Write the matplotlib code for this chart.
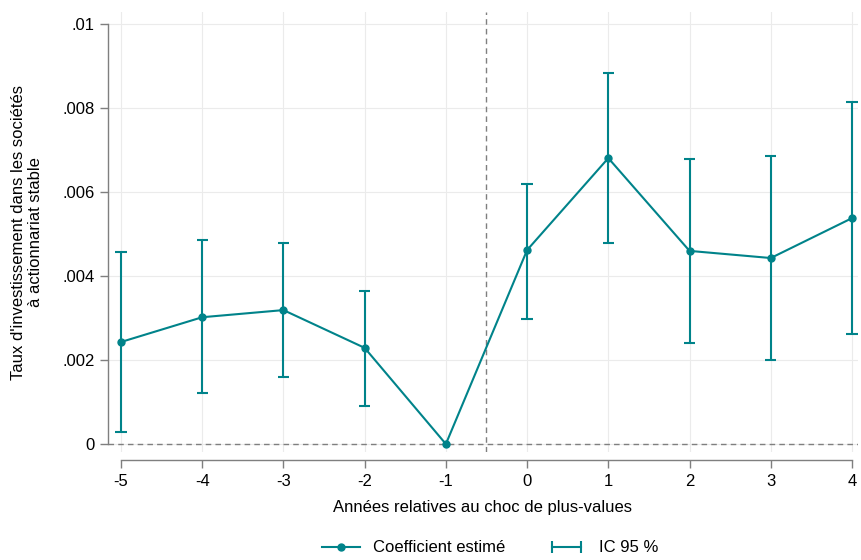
import matplotlib.pyplot as plt
from matplotlib.lines import Line2D
from matplotlib.legend_handler import HandlerLine2D

plt.rcParams['font.family'] = ['Liberation Sans', 'DejaVu Sans']
plt.rcParams['axes.unicode_minus'] = False

# Données
annees = [-5, -4, -3, -2, -1, 0, 1, 2, 3, 4]
coef = [0.00243, 0.00302, 0.00319, 0.00229, 0.0, 0.00462, 0.00681, 0.00460, 0.00443, 0.00538]
ic_haut = [0.00457, 0.00486, 0.00479, 0.00364, 0.0, 0.00619, 0.00883, 0.00679, 0.00686, 0.00814]
ic_bas = [0.00029, 0.00121, 0.00160, 0.00090, 0.0, 0.00298, 0.00479, 0.00240, 0.00200, 0.00262]
yticks = [0, 0.002, 0.004, 0.006, 0.008, 0.01]
ytick_labels = ['0', '.002', '.004', '.006', '.008', '.01']

couleur = '#00838a'
gris = '#7f7f7f'

fig = plt.figure(figsize=(8.61, 5.6), dpi=100)
ax = fig.add_axes([108/861, 108/560, 750/861, 440/560])

# intervalles de confiance (sauf l'année de référence)
idx = [i for i in range(len(annees)) if annees[i] != -1]
ax.vlines([annees[i] for i in idx], [ic_bas[i] for i in idx], [ic_haut[i] for i in idx],
          color=couleur, lw=1.5, zorder=3)
ax.hlines([ic_haut[i] for i in idx], [annees[i] - 0.07 for i in idx], [annees[i] + 0.07 for i in idx],
          color=couleur, lw=1.5, zorder=3)
ax.hlines([ic_bas[i] for i in idx], [annees[i] - 0.07 for i in idx], [annees[i] + 0.07 for i in idx],
          color=couleur, lw=1.5, zorder=3)

ax.plot(annees, coef, color=couleur, lw=1.5, marker='o', ms=5, zorder=4)

ax.axhline(0, color=gris, lw=1, ls=(0, (4, 3)), zorder=2)
ax.axvline(-0.5, color=gris, lw=1, ls=(0, (4, 3)), zorder=2)

ax.set_xlim(-5.16, 4.074)
ax.set_ylim(-0.00019, 0.01029)
ax.set_xticks(annees)
ax.set_yticks(yticks)
ax.set_yticklabels(ytick_labels)
ax.grid(True, color='#ebebeb', lw=0.8, zorder=0)

for s in ['top', 'right']:
    ax.spines[s].set_visible(False)
ax.spines['left'].set_bounds(0, 0.01)
ax.spines['bottom'].set_bounds(-5, 4)
ax.spines['bottom'].set_position(('outward', 6))
for s in ['left', 'bottom']:
    ax.spines[s].set_color(gris)
    ax.spines[s].set_linewidth(1)
ax.tick_params(colors=gris, length=6, width=1, labelcolor='black', labelsize=12)

ax.set_xlabel('Années relatives au choc de plus-values', fontsize=12, labelpad=8)
ax.set_ylabel("Taux d'investissement dans les sociétés\nà actionnariat stable", fontsize=12,
              labelpad=14, linespacing=1.15)

h1 = Line2D([], [], color=couleur, lw=1.5, marker='o', ms=5)
h2 = Line2D([], [], color=couleur, lw=1.5, marker='|', ms=8, mew=1.5)
fig.legend([h1, h2], ['Coefficient estimé', 'IC 95 %'], loc='center', bbox_to_anchor=(490/861, 12/560),
           ncol=2, frameon=False, fontsize=12, handlelength=2.3, columnspacing=2.5,
           handler_map={h1: HandlerLine2D(numpoints=1), h2: HandlerLine2D(numpoints=2)})

fig.savefig('out.png', dpi=100)
